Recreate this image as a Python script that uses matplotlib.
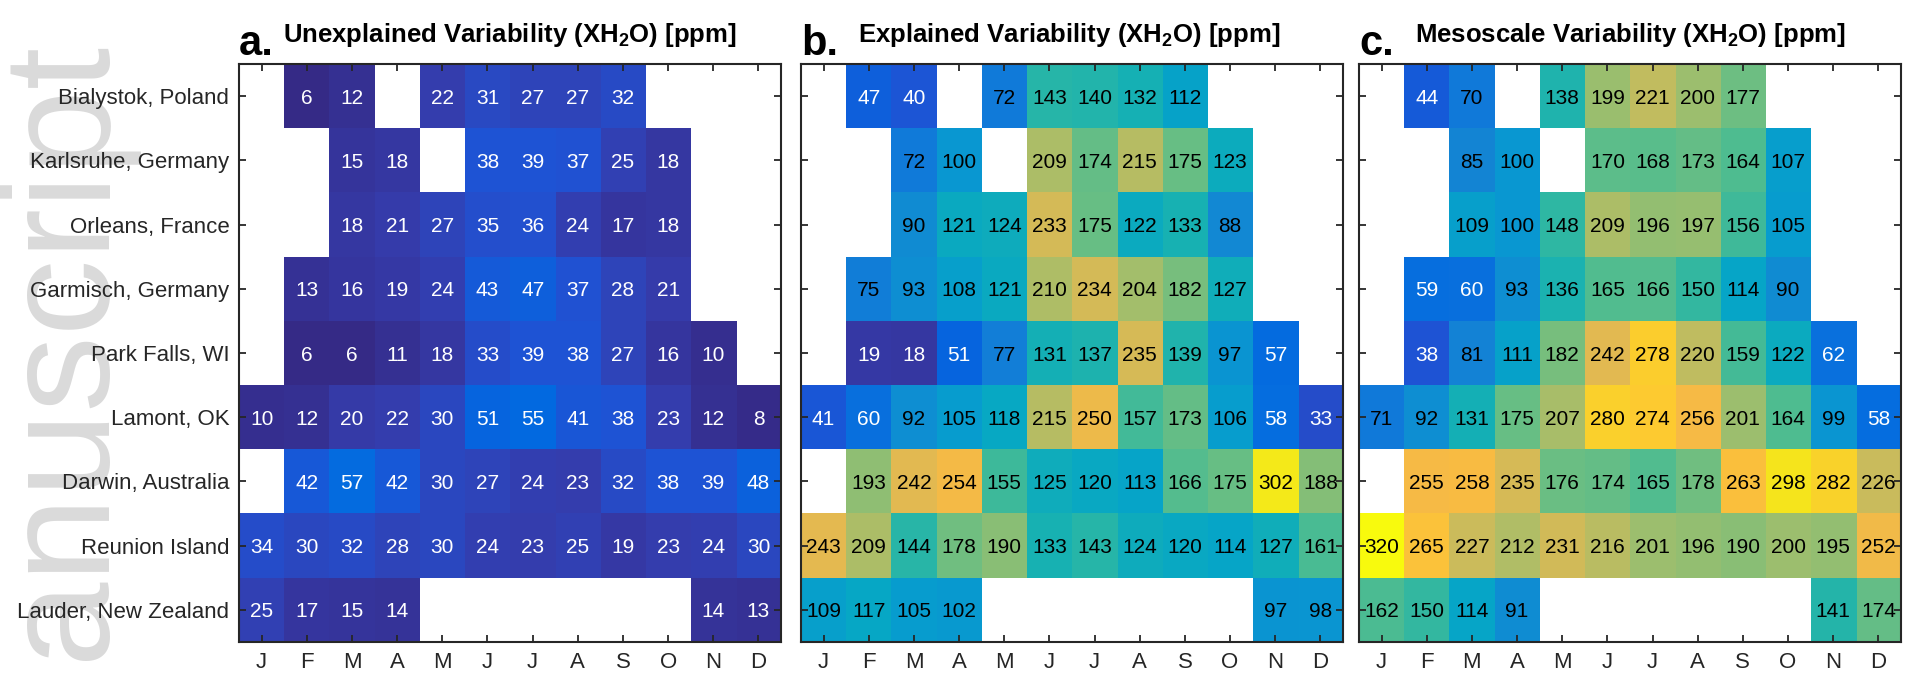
import numpy as np
import matplotlib
matplotlib.use('Agg')
import matplotlib.pyplot as plt
from matplotlib.colors import LinearSegmentedColormap

nan = np.nan

sites = ['Bialystok, Poland', 'Karlsruhe, Germany', 'Orleans, France',
         'Garmisch, Germany', 'Park Falls, WI', 'Lamont, OK',
         'Darwin, Australia', 'Reunion Island', 'Lauder, New Zealand']
months = ['J', 'F', 'M', 'A', 'M', 'J', 'J', 'A', 'S', 'O', 'N', 'D']

# a. unexplained variability
unexplained = [
    [nan, 6, 12, nan, 22, 31, 27, 27, 32, nan, nan, nan],
    [nan, nan, 15, 18, nan, 38, 39, 37, 25, 18, nan, nan],
    [nan, nan, 18, 21, 27, 35, 36, 24, 17, 18, nan, nan],
    [nan, 13, 16, 19, 24, 43, 47, 37, 28, 21, nan, nan],
    [nan, 6, 6, 11, 18, 33, 39, 38, 27, 16, 10, nan],
    [10, 12, 20, 22, 30, 51, 55, 41, 38, 23, 12, 8],
    [nan, 42, 57, 42, 30, 27, 24, 23, 32, 38, 39, 48],
    [34, 30, 32, 28, 30, 24, 23, 25, 19, 23, 24, 30],
    [25, 17, 15, 14, nan, nan, nan, nan, nan, nan, 14, 13],
]

# b. explained variability
explained = [
    [nan, 47, 40, nan, 72, 143, 140, 132, 112, nan, nan, nan],
    [nan, nan, 72, 100, nan, 209, 174, 215, 175, 123, nan, nan],
    [nan, nan, 90, 121, 124, 233, 175, 122, 133, 88, nan, nan],
    [nan, 75, 93, 108, 121, 210, 234, 204, 182, 127, nan, nan],
    [nan, 19, 18, 51, 77, 131, 137, 235, 139, 97, 57, nan],
    [41, 60, 92, 105, 118, 215, 250, 157, 173, 106, 58, 33],
    [nan, 193, 242, 254, 155, 125, 120, 113, 166, 175, 302, 188],
    [243, 209, 144, 178, 190, 133, 143, 124, 120, 114, 127, 161],
    [109, 117, 105, 102, nan, nan, nan, nan, nan, nan, 97, 98],
]

# c. mesoscale variability
mesoscale = [
    [nan, 44, 70, nan, 138, 199, 221, 200, 177, nan, nan, nan],
    [nan, nan, 85, 100, nan, 170, 168, 173, 164, 107, nan, nan],
    [nan, nan, 109, 100, 148, 209, 196, 197, 156, 105, nan, nan],
    [nan, 59, 60, 93, 136, 165, 166, 150, 114, 90, nan, nan],
    [nan, 38, 81, 111, 182, 242, 278, 220, 159, 122, 62, nan],
    [71, 92, 131, 175, 207, 280, 274, 256, 201, 164, 99, 58],
    [nan, 255, 258, 235, 176, 174, 165, 178, 263, 298, 282, 226],
    [320, 265, 227, 212, 231, 216, 201, 196, 190, 200, 195, 252],
    [162, 150, 114, 91, nan, nan, nan, nan, nan, nan, 141, 174],
]

# MATLAB parula, sampled
parula = LinearSegmentedColormap.from_list('parula', [
    (0.2081, 0.1663, 0.5292), (0.2081, 0.2386, 0.6771), (0.1253, 0.3242, 0.8303),
    (0.0060, 0.4086, 0.8828), (0.0629, 0.4737, 0.8554), (0.0793, 0.5200, 0.8312),
    (0.0343, 0.5966, 0.8199), (0.0228, 0.6535, 0.7768), (0.0843, 0.6928, 0.7062),
    (0.1801, 0.7177, 0.6424), (0.3022, 0.7376, 0.5712), (0.4420, 0.7481, 0.5033),
    (0.5709, 0.7485, 0.4494), (0.6834, 0.7435, 0.4044), (0.7858, 0.7356, 0.3633),
    (0.8824, 0.7274, 0.3217), (0.9739, 0.7314, 0.2666), (0.9955, 0.7861, 0.1967),
    (0.9697, 0.8481, 0.1475), (0.9598, 0.9218, 0.0948), (0.9763, 0.9831, 0.0538),
], N=256)
parula.set_bad('white')

# one colour scale shared by all three panels (data min to data max)
allvals = np.array(unexplained + explained + mesoscale, dtype=float)
vmin, vmax = np.nanmin(allvals), np.nanmax(allvals)

plt.rcParams['font.family'] = ['Liberation Sans', 'DejaVu Sans']
plt.rcParams['mathtext.default'] = 'regular'

fig = plt.figure(figsize=(19.2, 6.79), dpi=100)

# faint watermark at the left edge, behind everything
fig.text(0.0, 0.931, 'Author Manuscript', rotation=90, fontsize=110,
         color='#dadada', ha='left', va='top', zorder=-5)

panels = [
    (unexplained, 'a.', 'Unexplained Variability (XH$_2$O) [ppm]', 0.1245, 0.081),
    (explained, 'b.', 'Explained Variability (XH$_2$O) [ppm]', 0.4172, 0.105),
    (mesoscale, 'c.', 'Mesoscale Variability (XH$_2$O) [ppm]', 0.7078, 0.103),
]

dark = '#262626'
for k, (data, letter, title, left, toff) in enumerate(panels):
    ax = fig.add_axes([left, 0.0545, 0.2823, 0.851])
    arr = np.ma.masked_invalid(np.array(data, dtype=float))
    ax.imshow(arr, cmap=parula, vmin=vmin, vmax=vmax, aspect='auto',
              interpolation='nearest')
    for i, row in enumerate(data):
        for j, v in enumerate(row):
            if not np.isnan(v):
                ax.text(j, i, '%d' % v, ha='center', va='center_baseline',
                        fontsize=15, color='white' if v < 65 else 'black')
    ax.set_xticks(range(12))
    ax.set_xticklabels(months)
    ax.set_yticks(range(len(sites)))
    ax.set_yticklabels(sites if k == 0 else [])
    ax.tick_params(direction='in', top=True, right=True, length=5, width=1.3,
                   color=dark, labelcolor=dark, labelsize=16, pad=7)
    for s in ax.spines.values():
        s.set_linewidth(1.5)
        s.set_color(dark)
    ax.text(0.0, 1.0156, letter, transform=ax.transAxes, fontsize=30,
            fontweight='bold', ha='left', va='baseline')
    ax.text(toff, 1.038, title, transform=ax.transAxes, fontsize=18.5,
            fontweight='bold', ha='left', va='baseline')

fig.savefig('out.png', dpi=100)
